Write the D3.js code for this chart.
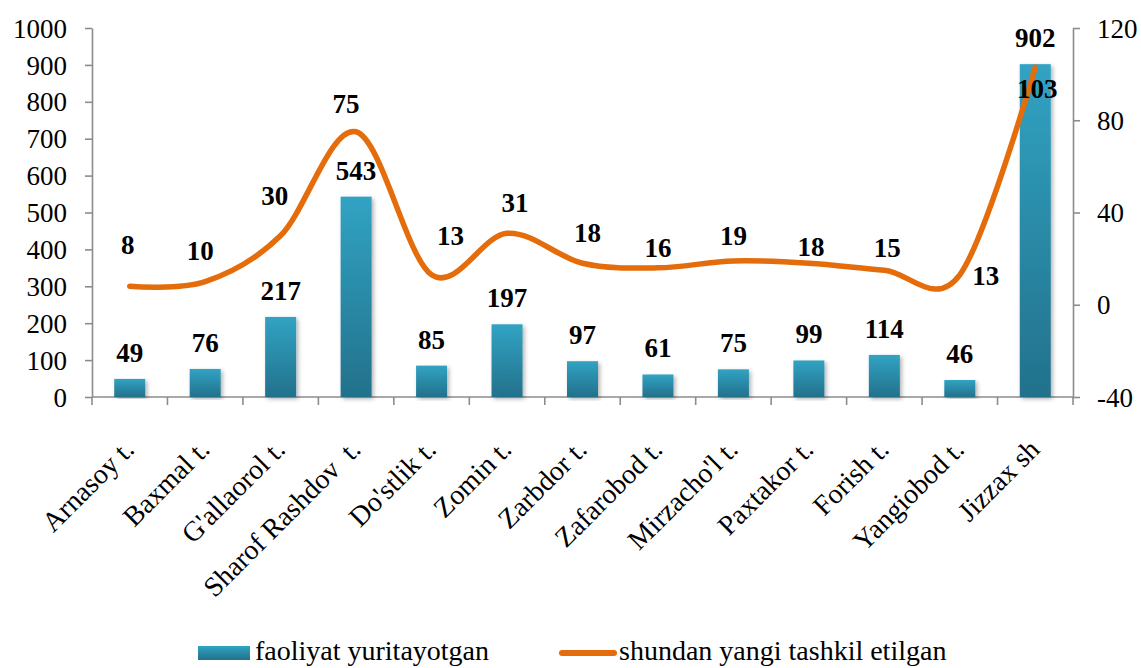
<!DOCTYPE html>
<meta charset="utf-8">
<style>
body { margin: 0; background: #fff; }
svg text { font-family: "Liberation Serif", "Times New Roman", Times, serif; fill: #000; }
.axis path, .axis line { stroke: #8c8c8c; stroke-width: 1.6px; }
.axis text { font-size: 27px; }
.lbl { font-size: 27px; font-weight: bold; }
</style>
<body>
<script src="https://cdn.jsdelivr.net/npm/d3@7/dist/d3.min.js"></script>
<script>

var width = 1141,
    height = 668;

var categories = ["Arnasoy t.", "Baxmal t.", "G'allaorol t.", "Sharof Rashdov  t.", "Do'stlik t.",
  "Zomin t.", "Zarbdor t.", "Zafarobod t.", "Mirzacho'l t.", "Paxtakor t.", "Forish t.",
  "Yangiobod t.", "Jizzax sh"];
var active = [49, 76, 217, 543, 85, 197, 97, 61, 75, 99, 114, 46, 902];
var newlyCreated = [8, 10, 30, 75, 13, 31, 18, 16, 19, 18, 15, 13, 103];
var leftTicks = [0, 100, 200, 300, 400, 500, 600, 700, 800, 900, 1000];
var rightTicks = [-40, 0, 40, 80, 120];
var seriesNames = ["faoliyat yuritayotgan", "shundan yangi tashkil etilgan"];

// hand placement of the line labels, as in the original
var lineLabelNudge = [[-2, 32], [-5, 22], [-6, 31], [-10, 19], [19, 30], [8, 21], [5, 21],
  [0, 11], [0, 16], [2, 7], [3, 13], [26, -10], [2, -31]];

var plotLeft = 92, plotRight = 1073, plotTop = 28, plotBottom = 397;

var x = d3.scaleBand().domain(categories).range([plotLeft, plotRight]).padding(0);
var y = d3.scaleLinear().domain([0, 1000]).range([plotBottom, plotTop]);
var y2 = d3.scaleLinear().domain([-40, 120]).range([plotBottom, plotTop]);

var plain = function(d) { return String(d); };

var svg = d3.select("body").append("svg")
    .attr("width", width)
    .attr("height", height)
    .attr("font-family", "Liberation Serif, Times New Roman, serif");

var defs = svg.append("defs");
var grad = defs.append("linearGradient")
    .attr("id", "barGrad")
    .attr("x1", 0).attr("y1", 0).attr("x2", 0).attr("y2", 1);
grad.append("stop").attr("offset", "0%").attr("stop-color", "#31a3c3");
grad.append("stop").attr("offset", "100%").attr("stop-color", "#23718b");

var shadow = defs.append("filter").attr("id", "shadow")
    .attr("x", "-20%").attr("y", "-5%").attr("width", "150%").attr("height", "115%");
shadow.append("feDropShadow")
    .attr("dx", 2).attr("dy", 2).attr("stdDeviation", 2)
    .attr("flood-color", "#000").attr("flood-opacity", 0.3);

// left axis
svg.append("g")
    .attr("class", "axis")
    .attr("transform", "translate(" + plotLeft + ",0)")
    .call(d3.axisLeft(y).tickValues(leftTicks).tickFormat(plain)
      .tickSize(7).tickSizeOuter(0).tickPadding(18))
    .attr("font-family", null)
    .selectAll("text").attr("dy", "0.34em");

// right axis
svg.append("g")
    .attr("class", "axis")
    .attr("transform", "translate(" + plotRight + ",0)")
    .call(d3.axisRight(y2).tickValues(rightTicks).tickFormat(plain)
      .tickSize(7).tickSizeOuter(0).tickPadding(17))
    .attr("font-family", null)
    .selectAll("text").attr("dy", "0.34em");

// bottom axis line with ticks on category boundaries
var xAxis = svg.append("g").attr("class", "axis");
xAxis.append("line")
    .attr("x1", plotLeft).attr("x2", plotRight)
    .attr("y1", plotBottom).attr("y2", plotBottom);
xAxis.selectAll(".bt")
    .data(categories.map(function(d) { return x(d); }).concat([plotRight]))
  .enter().append("line")
    .attr("x1", function(d) { return d; })
    .attr("x2", function(d) { return d; })
    .attr("y1", plotBottom).attr("y2", plotBottom + 8);

xAxis.selectAll(".cat")
    .data(categories)
  .enter().append("text")
    .attr("class", "cat")
    .attr("text-anchor", "end")
    .style("font-size", "28px")
    .style("white-space", "pre")
    .attr("transform", function(d) {
      return "translate(" + (x(d) + x.bandwidth() / 2 + 6) + "," + 451 + ") rotate(-45)";
    })
    .text(function(d) { return d; });

// bars
var barW = 31;
svg.selectAll(".bar")
    .data(active)
  .enter().append("rect")
    .attr("class", "bar")
    .attr("x", function(d, i) { return x(categories[i]) + x.bandwidth() / 2 - barW / 2; })
    .attr("y", function(d) { return y(d); })
    .attr("width", barW)
    .attr("height", function(d) { return plotBottom - y(d); })
    .attr("fill", "url(#barGrad)")
    .attr("filter", "url(#shadow)");

svg.selectAll(".barLbl")
    .data(active)
  .enter().append("text")
    .attr("class", "lbl")
    .attr("text-anchor", "middle")
    .attr("x", function(d, i) { return x(categories[i]) + x.bandwidth() / 2; })
    .attr("y", function(d) { return y(d) - 17; })
    .text(function(d) { return d; });

// line
var line = d3.line()
    .x(function(d, i) { return x(categories[i]) + x.bandwidth() / 2; })
    .y(function(d) { return y2(d); })
    .curve(d3.curveCatmullRom.alpha(0));

svg.append("path")
    .datum(newlyCreated)
    .attr("d", line)
    .attr("fill", "none")
    .attr("stroke", "#e46c0a")
    .attr("stroke-width", 5.5)
    .attr("stroke-linecap", "round")
    .attr("stroke-linejoin", "round");

svg.selectAll(".lineLbl")
    .data(newlyCreated)
  .enter().append("text")
    .attr("class", "lbl")
    .attr("text-anchor", "middle")
    .attr("x", function(d, i) { return x(categories[i]) + x.bandwidth() / 2 + lineLabelNudge[i][0]; })
    .attr("y", function(d, i) { return y2(d) - lineLabelNudge[i][1]; })
    .text(function(d) { return d; });

// legend
var legend = svg.append("g");
legend.append("rect")
    .attr("x", 198).attr("y", 646)
    .attr("width", 52).attr("height", 14)
    .attr("fill", "url(#barGrad)");
legend.append("text")
    .attr("x", 255).attr("y", 660)
    .style("font-size", "28px")
    .text(seriesNames[0]);
legend.append("line")
    .attr("x1", 562).attr("x2", 614)
    .attr("y1", 653).attr("y2", 653)
    .attr("stroke", "#e46c0a")
    .attr("stroke-width", 6)
    .attr("stroke-linecap", "round");
legend.append("text")
    .attr("x", 619).attr("y", 660)
    .style("font-size", "28px")
    .text(seriesNames[1]);

</script>
